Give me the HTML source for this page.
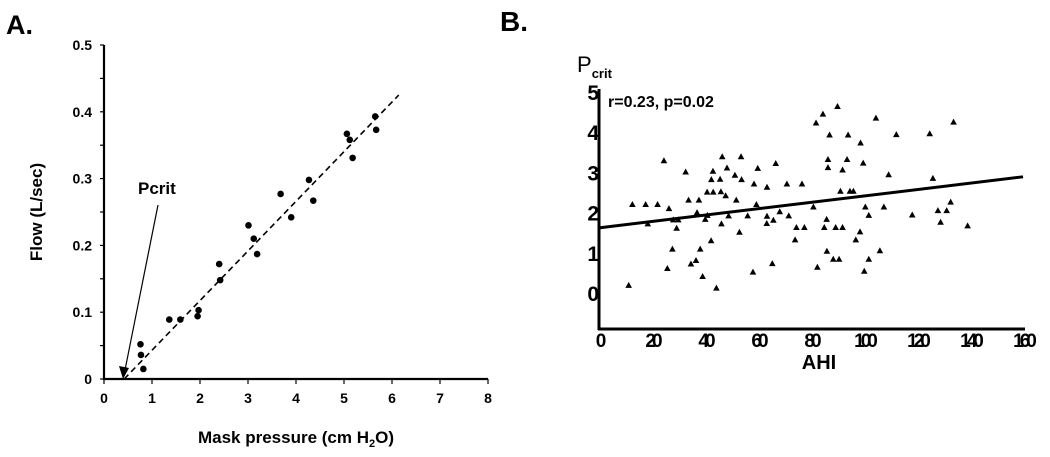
<!DOCTYPE html>
<html><head><meta charset="utf-8"><style>
html,body{margin:0;padding:0;background:#fff;}
svg{display:block;font-family:"Liberation Sans",Arial,sans-serif;}
</style></head><body>
<svg id="chart" width="1050" height="457" viewBox="0 0 1050 457" xmlns="http://www.w3.org/2000/svg">
<g id="A"></g>
<g id="B"></g>
</svg>
<script>
// Panel A data
const aPressure=[0.76,0.77,0.82,1.36,1.59,1.97,1.95,2.40,2.42,3.01,3.12,3.19,3.68,3.90,4.27,4.36,5.06,5.12,5.18,5.65,5.67];
const aFlow=[0.052,0.036,0.015,0.089,0.089,0.103,0.094,0.172,0.148,0.230,0.210,0.187,0.277,0.242,0.298,0.267,0.367,0.358,0.331,0.393,0.373];
const aFitX=[0.42,6.14];
const aFitY=[0,0.425];
const aXTicks=[0,1,2,3,4,5,6,7,8];
const aYTicks=[0,0.1,0.2,0.3,0.4,0.5];
const aYTickLabels=["0","0.1","0.2","0.3","0.4","0.5"];
// Panel B data
const bAHI=[11.2,12.6,17.6,18.4,22.1,24.5,25.8,26.4,27.7,28,29.3,29.9,32.7,33.8,34.7,36.6,37,37.7,38.2,39.1,40.1,40.9,40.8,42.3,42.4,43,43.1,44.3,45.7,46,46.2,46.5,47.8,48.3,48.9,51.3,51.8,53,53.6,53.8,56.1,58.1,58.5,59.4,59.9,63.4,63.4,63.3,65.4,65.8,66.7,68.2,70.9,71.6,74,74.5,76.6,77.5,80.9,81.9,82.4,84.5,85,85.9,86,86.4,86.4,87,88.4,89.3,90,90.6,91.1,91.9,91.9,93.6,94,94.7,96,96.9,98.5,98.7,99.7,100.1,100.5,101.8,101.8,104.5,106,107.5,109.3,112.2,118.2,124.8,126,127.9,128.9,131.2,132.7,133.8,139.1];
const bPcrit=[0.19,2.2,2.2,1.72,2.2,3.29,0.61,2.1,1.09,1.82,1.61,1.82,3.01,2.31,0.72,0.81,2.0,2.31,1.09,0.41,1.83,1.93,2.51,1.3,2.82,3.03,2.51,0.12,2.83,2.52,1.72,3.39,2.42,3.11,1.92,2.93,2.31,1.51,3.39,2.82,1.92,0.52,2.71,2.2,3.1,2.63,1.91,1.73,0.73,1.81,3.22,2.02,2.71,1.92,1.32,1.63,2.71,1.63,2.14,4.23,0.64,4.45,1.63,1.83,1.04,3.32,3.12,3.93,0.84,1.63,4.64,0.84,2.53,1.63,3.06,3.32,3.93,2.53,2.53,1.32,1.52,3.73,3.23,0.54,2.14,1.93,0.84,4.35,1.05,2.14,2.94,3.94,1.94,3.96,2.85,2.05,1.76,2.05,2.26,4.25,1.67];
const bFitX=[0,160];
const bFitY=[1.62,2.89];
const bXTicks=[0,20,40,60,80,100,120,140,160];
const bYTicks=[0,1,2,3,4,5];

const NS="http://www.w3.org/2000/svg";
function mk(parent,tag,attrs,text){const e=document.createElementNS(NS,tag);for(const k in attrs)e.setAttribute(k,attrs[k]);if(text!==undefined)e.textContent=text;parent.appendChild(e);return e;}

// ---- Panel A ----
const A=document.getElementById('A');
const ax=v=>104+v*48, ay=v=>379-v*668;
let t;
t=mk(A,'text',{x:6,y:34,'font-size':27,'font-weight':'bold'},'A.');


let l=mk(A,'line',{x1:ax(0),y1:ay(0.5),x2:ax(0),y2:ay(0)+1,stroke:'#000','stroke-width':2.2});


l=mk(A,'line',{x1:ax(0)-1,y1:ay(0),x2:ax(8),y2:ay(0),stroke:'#000','stroke-width':2.2});


for(let i=0;i<=10;i++){const y=ay(i*0.05);mk(A,'line',{x1:ax(0)-4,y1:y,x2:ax(0),y2:y,stroke:'#000','stroke-width':1.2});}
aYTicks.forEach((v,i)=>{t=mk(A,'text',{x:92,y:ay(v)+5,'font-size':14,'font-weight':'bold','text-anchor':'end'},aYTickLabels[i]);

});
aXTicks.forEach(v=>{mk(A,'line',{x1:ax(v),y1:ay(0),x2:ax(v),y2:ay(0)+5,stroke:'#000','stroke-width':1.2});
t=mk(A,'text',{x:ax(v),y:403,'font-size':14,'font-weight':'bold','text-anchor':'middle'},String(v));

});
t=mk(A,'text',{x:0,y:0,'font-size':17,'font-weight':'bold','text-anchor':'middle',transform:'translate(42,212) rotate(-90)'},'Flow (L/sec)');


t=mk(A,'text',{x:296,y:443,'font-size':17,'font-weight':'bold','text-anchor':'middle'});


t.innerHTML='Mask pressure (cm H<tspan font-size="11" dy="4">2</tspan><tspan dy="-4">O)</tspan>';
l=mk(A,'line',{x1:ax(aFitX[0]),y1:ay(aFitY[0]),x2:ax(aFitX[1]),y2:ay(aFitY[1]),stroke:'#000','stroke-width':1.6,'stroke-dasharray':'6,4'});


aPressure.forEach((p,i)=>{const c=mk(A,'circle',{cx:ax(p),cy:ay(aFlow[i]),r:3.3,fill:'#000'});

});
t=mk(A,'text',{x:138,y:194,'font-size':17,'font-weight':'bold'},'Pcrit');


l=mk(A,'line',{x1:158,y1:205,x2:125,y2:370,stroke:'#000','stroke-width':1.2});


mk(A,'polygon',{points:'123,379 119,366 129,368',fill:'#000'});

// ---- Panel B ----
const B=document.getElementById('B');
const bx=v=>599+v*2.65, by=v=>293-v*40.2;
t=mk(B,'text',{x:500,y:31,'font-size':28,'font-weight':'bold'},'B.');


l=mk(B,'line',{x1:bx(0),y1:89,x2:bx(0),y2:330,stroke:'#000','stroke-width':3});


l=mk(B,'line',{x1:bx(0)-1,y1:329,x2:bx(160)+2,y2:329,stroke:'#000','stroke-width':3});


bYTicks.forEach(v=>{t=mk(B,'text',{x:597,y:by(v)+8,'font-size':21,'font-weight':'bold','text-anchor':'end','letter-spacing':-2},String(v));

});
bXTicks.forEach(v=>{t=mk(B,'text',{x:bx(v),y:347,'font-size':19,'font-weight':'bold','text-anchor':'middle','letter-spacing':-4},String(v));

});
t=mk(B,'text',{x:819,y:369,'font-size':20,'font-weight':'bold','text-anchor':'middle'},'AHI');


t=mk(B,'text',{x:577,y:72,'font-size':22});


t.innerHTML='P<tspan font-size="13" font-weight="bold" dy="6">crit</tspan>';
t=mk(B,'text',{x:608,y:107,'font-size':16,'font-weight':'bold'},'r=0.23,  p=0.02');


l=mk(B,'line',{x1:bx(bFitX[0]),y1:by(bFitY[0]),x2:bx(bFitX[1]),y2:by(bFitY[1]),stroke:'#000','stroke-width':3});


bAHI.forEach((a,i)=>{const x=bx(a),y=by(bPcrit[i]);
const p=mk(B,'polygon',{points:`${x-3.3},${y+2.5} ${x+3.3},${y+2.5} ${x},${y-3.5}`,fill:'#000'});

});
</script>
</body></html>
